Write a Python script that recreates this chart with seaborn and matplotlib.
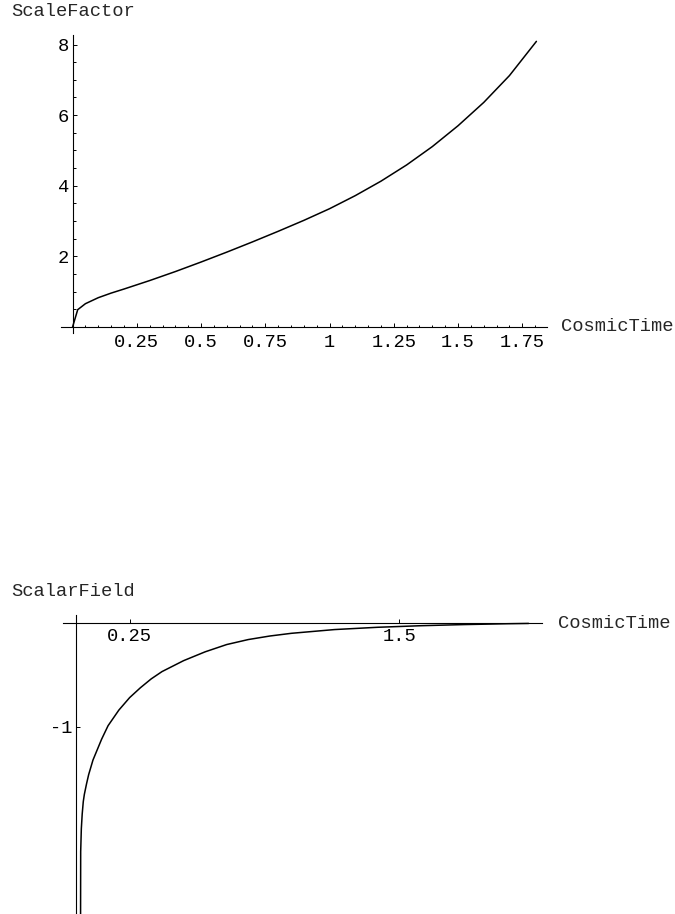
import numpy as np
import pandas as pd
import matplotlib
matplotlib.use("Agg")
import matplotlib.pyplot as plt
from matplotlib.ticker import FixedLocator, FixedFormatter, MultipleLocator, NullLocator
import seaborn as sns

# ---- data ----
time_a = [0.0, 0.02, 0.05, 0.1, 0.15, 0.2, 0.3, 0.4, 0.5, 0.6, 0.7, 0.8,
          0.9, 1.0, 1.1, 1.2, 1.3, 1.4, 1.5, 1.6, 1.7, 1.805]
scale_factor = [0.0, 0.49, 0.66, 0.83, 0.96, 1.075, 1.315, 1.57, 1.84, 2.12, 2.41, 2.71,
                3.02, 3.35, 3.72, 4.13, 4.59, 5.11, 5.70, 6.36, 7.12, 8.09]

time_phi = [0.0205, 0.023, 0.026, 0.03, 0.035, 0.04, 0.05, 0.06, 0.07, 0.08, 0.1,
            0.12, 0.15, 0.2, 0.25, 0.3, 0.35, 0.4, 0.5, 0.6, 0.7, 0.8, 0.9, 1.0,
            1.2, 1.4, 1.6, 1.8, 2.0, 2.1]
scalar_field = [-5.0, -2.2, -1.98, -1.84, -1.72, -1.65, -1.55, -1.46, -1.39, -1.32, -1.22,
                -1.12, -0.99, -0.84, -0.72, -0.625, -0.54, -0.47, -0.365, -0.28, -0.21,
                -0.162, -0.128, -0.102, -0.066, -0.044, -0.029, -0.018, -0.01, -0.007]

top_xticks = [0.25, 0.5, 0.75, 1.0, 1.25, 1.5, 1.75]
top_xlabels = ["0.25", "0.5", "0.75", "1", "1.25", "1.5", "1.75"]
top_yticks = [2, 4, 6, 8]
top_ylabels = ["2", "4", "6", "8"]

bot_xticks = [0.25, 1.5]
bot_xlabels = ["0.25", "1.5"]
bot_yticks = [-1]
bot_ylabels = ["-1"]

sns.set_style("white")
plt.rcParams['font.family'] = ['Liberation Mono', 'DejaVu Sans Mono']
FS = 13.5

W, H = 675, 914
fig = plt.figure(figsize=(W / 100, H / 100), dpi=100)

def px_axes(left, right, top, bottom):
    return fig.add_axes([left / W, 1 - bottom / H, (right - left) / W, (bottom - top) / H])

def style(ax):
    for s in ["top", "right"]:
        ax.spines[s].set_visible(False)
    for s in ["left", "bottom"]:
        ax.spines[s].set_position(("data", 0))
        ax.spines[s].set_linewidth(0.8)
        ax.spines[s].set_color("black")
    ax.set_facecolor("white")
    ax.tick_params(which="both", direction="in", color="black", width=0.7,
                   labelsize=FS, labelcolor="black", bottom=True, left=True,
                   top=False, right=False)
    ax.tick_params(which="major", length=3.0)
    ax.tick_params(which="minor", length=1.8)
    ax.tick_params(axis="x", which="major", pad=5)
    ax.tick_params(axis="y", which="major", pad=2.5)
    ax.set_xlabel("")
    ax.set_ylabel("")

# ---- top panel ----
ax1 = px_axes(61, 546.7, 35, 333)
df_a = pd.DataFrame({"t": time_a, "a": scale_factor})
sns.lineplot(data=df_a, x="t", y="a", ax=ax1, color="black", linewidth=1.1, sort=False)
ax1.set_xlim(-0.045, 1.845)
ax1.set_ylim(-0.17, 8.27)
style(ax1)
ax1.xaxis.set_major_locator(FixedLocator(top_xticks))
ax1.xaxis.set_major_formatter(FixedFormatter(top_xlabels))
ax1.xaxis.set_minor_locator(MultipleLocator(0.05))
ax1.yaxis.set_major_locator(FixedLocator(top_yticks))
ax1.yaxis.set_major_formatter(FixedFormatter(top_ylabels))
ax1.yaxis.set_minor_locator(MultipleLocator(0.5))

fig.text(11 / W, 1 - 11.5 / H, "ScaleFactor", fontsize=FS, va="center", ha="left")
fig.text(561 / W, 1 - 327 / H, "CosmicTime", fontsize=FS, va="center", ha="left")

# ---- bottom panel ----
ax2 = px_axes(63, 542, 615, 914)
df_p = pd.DataFrame({"t": time_phi, "phi": scalar_field})
sns.lineplot(data=df_p, x="t", y="phi", ax=ax2, color="black", linewidth=1.1, sort=False)
ax2.set_xlim(-0.059, 2.162)
ax2.set_ylim(-2.80, 0.074)
style(ax2)
ax2.xaxis.set_major_locator(FixedLocator(bot_xticks))
ax2.xaxis.set_major_formatter(FixedFormatter(bot_xlabels))
ax2.xaxis.set_minor_locator(NullLocator())
ax2.yaxis.set_major_locator(FixedLocator(bot_yticks))
ax2.yaxis.set_major_formatter(FixedFormatter(bot_ylabels))
ax2.yaxis.set_minor_locator(NullLocator())
ax2.tick_params(axis="x", which="major", pad=4)

fig.text(11.5 / W, 1 - 591 / H, "ScalarField", fontsize=FS, va="center", ha="left")
fig.text(558 / W, 1 - 623 / H, "CosmicTime", fontsize=FS, va="center", ha="left")

fig.savefig("out.png", dpi=100, facecolor="white")
